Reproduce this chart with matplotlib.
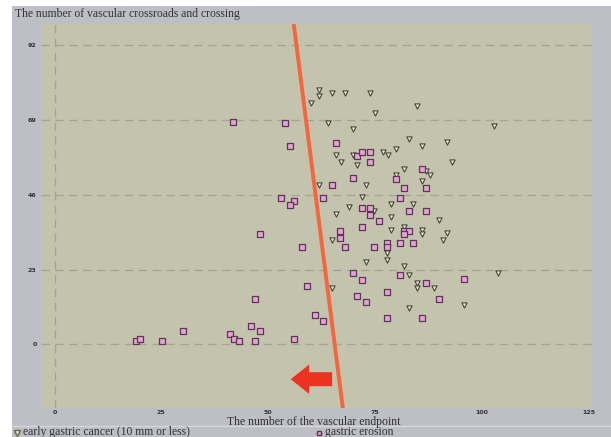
import matplotlib.pyplot as plt
from matplotlib.patches import Rectangle, FancyArrow
from matplotlib.lines import Line2D

# early gastric cancer (10 mm or less) - triangles
cancer_x = [61.9, 61.9, 64.9, 68.0, 73.8, 60.0, 75.0, 84.8, 64.0, 69.9,
            102.9, 83.0, 91.9, 86.0, 79.9, 76.9, 78.1, 65.9, 69.9, 67.1,
            70.8, 93.1, 81.8, 79.9, 87.0, 87.9, 86.0, 72.9, 61.9, 72.0,
            68.9, 65.9, 78.8, 83.9, 74.8, 78.8, 90.0, 81.8, 78.8, 86.0,
            86.0, 91.9, 90.9, 65.0, 77.8, 77.8, 72.9, 81.8, 83.0, 103.8,
            84.8, 84.8, 88.8, 65.0, 83.0, 95.9]
cancer_y = [78.2, 76.4, 77.3, 77.3, 77.3, 74.2, 71.2, 73.3, 68.1, 66.3,
            67.2, 63.2, 62.3, 61.0, 60.1, 59.2, 58.3, 58.3, 58.3, 56.1,
            55.2, 56.1, 54.0, 52.1, 53.4, 52.1, 50.3, 49.1, 49.1, 45.4,
            42.3, 40.2, 43.3, 43.3, 41.1, 39.3, 38.3, 36.2, 35.3, 35.3,
            34.0, 34.4, 32.2, 32.2, 28.2, 26.1, 25.2, 24.2, 21.2, 22.1,
            19.0, 17.2, 17.2, 17.2, 11.3, 12.0]

# gastric erosion - squares
erosion_x = [41.8, 54.0, 55.1, 65.9, 70.8, 72.0, 73.8, 73.8, 69.9, 65.0,
             86.0, 79.9, 81.8, 87.0, 53.0, 56.0, 55.1, 62.8, 48.1, 57.9,
             66.8, 66.8, 68.0, 72.0, 73.8, 73.8, 72.0, 80.9, 75.9, 83.0,
             87.0, 81.8, 83.0, 81.8, 77.8, 77.8, 74.8, 80.9, 83.9, 69.9,
             72.0, 59.1, 46.9, 70.8, 72.9, 61.0, 62.8, 80.9, 87.0, 95.9,
             77.8, 90.0, 77.8, 86.0, 46.0, 48.1, 46.9, 56.0, 19.1, 20.0,
             25.2, 30.1, 41.1, 42.0, 43.2]
erosion_y = [68.4, 68.1, 61.0, 62.0, 58.0, 59.2, 59.2, 56.1, 51.2, 49.1,
             54.0, 50.9, 48.2, 48.2, 45.1, 44.2, 42.9, 45.1, 34.0, 30.1,
             35.0, 32.8, 30.1, 42.0, 42.0, 39.9, 36.2, 45.1, 38.0, 41.1,
             41.1, 35.0, 35.0, 34.0, 31.3, 30.1, 30.1, 31.3, 31.3, 22.1,
             19.9, 18.1, 14.1, 15.0, 12.9, 8.9, 7.1, 21.2, 19.0, 20.2,
             16.0, 14.1, 8.0, 8.0, 5.8, 4.0, 0.9, 1.8, 0.9, 1.8,
             0.9, 4.0, 3.1, 1.8, 0.9]

xticks = [0, 25, 50, 75, 100, 125]
yticks = [0, 23, 46, 69, 92]

# dividing line and arrow
line_x = [56.0, 67.5]
line_y = [98.5, -19.6]
arrow_tail = (65.0, -10.7)
arrow_tip_x = 55.3

fig = plt.figure(figsize=(6.11, 4.37), dpi=100)
fig.patch.set_facecolor('white')
fig.patches.append(Rectangle((12 / 611, 0), 1, (437 - 6) / 437,
                             transform=fig.transFigure, facecolor='#bebfc6',
                             edgecolor='none', zorder=-10))
fig.lines.append(Line2D([12 / 611, 1], [(437 - 426) / 437] * 2,
                        transform=fig.transFigure, color='#d6d7dc', lw=1))

ax = fig.add_axes([0.0666, 0.066, 0.902, 0.879])
ax.set_facecolor('#c4c4ae')
for s in ax.spines.values():
    s.set_visible(False)

ax.set_xlim(-3.25, 125.8)
ax.set_ylim(-19.6, 98.5)
ax.set_xticks(xticks)
ax.set_yticks(yticks)
ax.tick_params(length=0, labelsize=4.5, colors='#333333')
ax.tick_params(axis='x', pad=1.5)
ax.tick_params(axis='y', pad=3)
for t in ax.get_xticklabels() + ax.get_yticklabels():
    t.set_fontweight('bold')

for yv in yticks:
    ax.axhline(yv, color='#a4a494', lw=1, ls=(0, (6, 4)), zorder=1)
ax.axvline(0, color='#a4a494', lw=1, ls=(0, (6, 4)), zorder=1)

ax.plot(line_x, line_y, color='#f2673f', lw=2.8, zorder=4, solid_capstyle='butt')

ax.add_patch(FancyArrow(arrow_tail[0], arrow_tail[1], arrow_tip_x - arrow_tail[0], 0,
                        width=4.3, head_width=9.0, head_length=4.3,
                        length_includes_head=True, color='#ec3322', lw=0, zorder=5))

ax.scatter(cancer_x, cancer_y, marker='v', s=14, facecolor='#ecebd2',
           edgecolor='#45443a', linewidths=0.8, zorder=3)
ax.scatter(erosion_x, erosion_y, marker='s', s=15, facecolor='#e6a2d6',
           edgecolor='#5a3a52', linewidths=0.9, zorder=3)

serif = 'Liberation Serif'
fig.text(15 / 611, 1 - 14 / 437, 'The number of vascular crossroads and crossing',
         family=serif, fontsize=8.4, color='#333333', va='center', ha='left')
fig.text(314 / 611, 1 - 421.5 / 437, 'The number of the vascular endpoint',
         family=serif, fontsize=8.5, color='#333333', va='center', ha='center')

# legend row
ly = 1 - 432.5 / 437
fig.lines.append(Line2D([14 / 611, 20 / 611], [ly, ly], transform=fig.transFigure,
                        color='#8a8a60', lw=0.6))
fig.lines.append(Line2D([17 / 611], [ly], transform=fig.transFigure, marker='v',
                        markersize=4, markerfacecolor='#ecebd2',
                        markeredgecolor='#6a6a40', ls='none'))
fig.text(23 / 611, ly, 'early gastric cancer (10 mm or less)', family=serif,
         fontsize=8.4, color='#333333', va='center', ha='left')
fig.lines.append(Line2D([316 / 611, 322 / 611], [ly, ly], transform=fig.transFigure,
                        color='#8a6a80', lw=0.6))
fig.lines.append(Line2D([319 / 611], [ly], transform=fig.transFigure, marker='s',
                        markersize=3.5, markerfacecolor='#e6a2d6',
                        markeredgecolor='#5a3a52', ls='none'))
fig.text(325 / 611, ly, 'gastric erosion', family=serif,
         fontsize=8.4, color='#333333', va='center', ha='left')

fig.savefig('out.png', dpi=100)
